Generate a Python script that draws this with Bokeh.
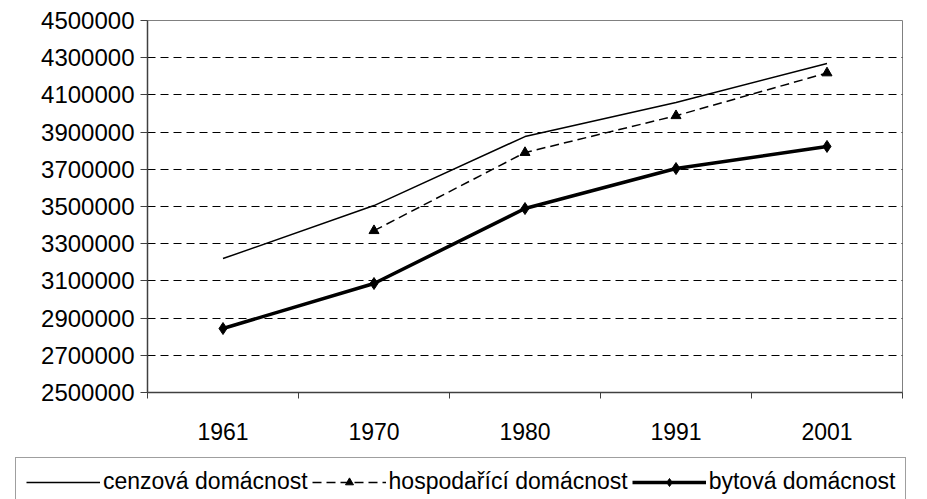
from bokeh.plotting import figure
from bokeh.models import (FixedTicker, NumeralTickFormatter, Legend, LegendItem,
                          ColumnDataSource, Range1d)
from bokeh.embed import file_html
from bokeh.resources import INLINE

years = ["1961", "1970", "1980", "1991", "2001"]
cenzova = [3220000, 3505000, 3876000, 4059000, 4269000]
hosp_years = ["1970", "1980", "1991", "2001"]
hospodarici = [3370000, 3790000, 3988000, 4218000]
bytova = [2844000, 3086000, 3489000, 3704000, 3823000]
y_ticks = list(range(2500000, 4500001, 200000))
series_names = ["cenzová domácnost", "hospodařící domácnost", "bytová domácnost"]

xpos = {y: i + 0.5 for i, y in enumerate(years)}

FONT = "Liberation Sans"

p = figure(width=927, height=457, output_backend="svg", toolbar_location=None,
           x_range=Range1d(0, len(years)), y_range=Range1d(2500000, 4500000),
           min_border_left=147, min_border_top=20, min_border_right=25,
           min_border_bottom=65)
p.outline_line_color = "#808080"
p.outline_line_width = 1
p.background_fill_color = "white"
p.border_fill_color = "white"

# axes
p.xaxis.ticker = FixedTicker(ticks=[xpos[y] for y in years],
                             minor_ticks=list(range(len(years) + 1)))
p.xaxis.major_label_overrides = {xpos[y]: y for y in years}
p.xaxis.major_tick_out = 0
p.xaxis.major_tick_in = 0
p.xaxis.minor_tick_out = 6
p.xaxis.minor_tick_in = 0
p.xaxis.major_label_standoff = 24
p.xaxis.major_label_text_font = FONT
p.xaxis.major_label_text_font_size = "23px"
p.xaxis.major_label_text_color = "black"
p.xaxis.axis_line_color = "#404040"
p.xaxis.axis_line_width = 1.5
p.xaxis.major_tick_line_color = "#404040"
p.xaxis.minor_tick_line_color = "#404040"

p.yaxis.ticker = FixedTicker(ticks=y_ticks)
p.yaxis.formatter = NumeralTickFormatter(format="0")
p.yaxis.major_tick_out = 7
p.yaxis.major_tick_in = 0
p.yaxis.minor_tick_out = 0
p.yaxis.minor_tick_in = 0
p.yaxis.major_label_standoff = 6
p.yaxis.major_label_text_font = FONT
p.yaxis.major_label_text_font_size = "24px"
p.yaxis.major_label_text_color = "black"
p.yaxis.axis_line_color = "#404040"
p.yaxis.axis_line_width = 1.5
p.yaxis.major_tick_line_color = "#404040"

p.xgrid.visible = False
p.ygrid.grid_line_color = "black"
p.ygrid.grid_line_dash = "8 5"
p.ygrid.grid_line_width = 1

# series
src_c = ColumnDataSource(dict(x=[xpos[y] for y in years], y=cenzova))
src_h = ColumnDataSource(dict(x=[xpos[y] for y in hosp_years], y=hospodarici))
src_b = ColumnDataSource(dict(x=[xpos[y] for y in years], y=bytova))

STY_C = dict(line_color="black", line_width=1.5)
STY_H = dict(line_color="black", line_width=1.5, line_dash="9 5")
STY_B = dict(line_color="black", line_width=3.5)
MK_H = dict(marker="triangle", size=10, fill_color="black", line_color="black")
MK_B = dict(marker="diamond", size=12, fill_color="black", line_color="black")

p.line("x", "y", source=src_c, **STY_C)
p.line("x", "y", source=src_h, **STY_H)
p.scatter("x", "y", source=src_h, **MK_H)
p.line("x", "y", source=src_b, **STY_B)
p.scatter("x", "y", source=src_b, **MK_B)

# legend strip: separate root so the box can extend past the plot area
lg = figure(width=927, height=42, output_backend="svg", toolbar_location=None,
            x_range=Range1d(0, 1), y_range=Range1d(0, 1),
            x_axis_type=None, y_axis_type=None,
            min_border_left=15, min_border_right=15, min_border_top=0,
            min_border_bottom=0)
lg.outline_line_color = None
lg.xgrid.visible = False
lg.ygrid.visible = False
# same data sources; they fall outside this strip's ranges, only the legend glyphs show
r_c = lg.line("x", "y", source=src_c, **STY_C)
r_h = lg.line("x", "y", source=src_h, **STY_H)
r_hm = lg.scatter("x", "y", source=src_h, **MK_H)
r_b = lg.line("x", "y", source=src_b, **STY_B)
r_bm = lg.scatter("x", "y", source=src_b, **MK_B)

legend = Legend(items=[
    LegendItem(label=series_names[0], renderers=[r_c]),
    LegendItem(label=series_names[1], renderers=[r_h, r_hm]),
    LegendItem(label=series_names[2], renderers=[r_b, r_bm]),
], orientation="horizontal", location="top_left")
legend.label_text_font = FONT
legend.label_text_font_size = "23px"
legend.label_text_color = "black"
legend.glyph_width = 74
legend.label_standoff = 3
legend.spacing = 4
legend.padding = 10
legend.margin = 0
legend.border_line_color = "#404040"
legend.border_line_width = 1
legend.background_fill_alpha = 1
lg.add_layout(legend, "center")

open("out.html", "w").write(file_html([p, lg], INLINE))
